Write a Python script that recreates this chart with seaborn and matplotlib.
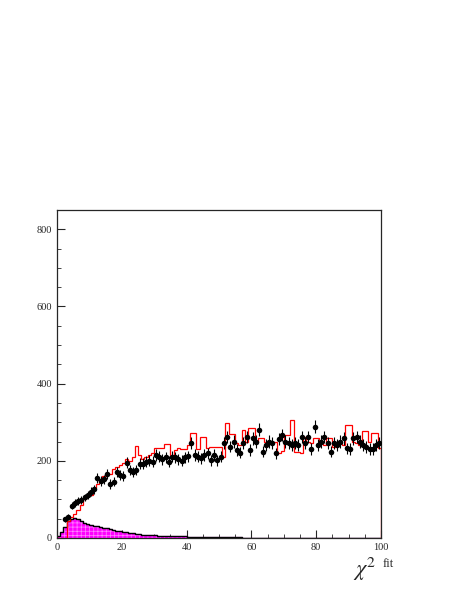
import numpy as np
import pandas as pd
import matplotlib
matplotlib.use("Agg")
import matplotlib.pyplot as plt
import seaborn as sns

sns.set_style("ticks")
plt.rcParams['font.family'] = ['Liberation Serif', 'DejaVu Serif']
plt.rcParams['mathtext.fontset'] = 'stix'
plt.rcParams['hatch.linewidth'] = 0.5

# bin centres of chi2 fit (1 unit bins, 0..100)
bin_centres = np.arange(0.5, 100, 1.0)
bin_edges = np.arange(0, 101, 1.0)

# data points (black markers), bins 2..99
data_counts = [48, 55, 83, 91, 96, 98, 105, 111, 120, 126,
               155, 148, 152, 165, 140, 146, 172, 163, 161, 195,
               176, 172, 176, 193, 193, 198, 200, 198, 215, 211,
               204, 209, 198, 211, 209, 204, 200, 209, 212, 245,
               215, 211, 206, 215, 219, 202, 215, 202, 211, 245,
               262, 237, 250, 228, 221, 245, 262, 228, 258, 250,
               280, 224, 241, 250, 245, 219, 256, 267, 250, 245,
               241, 245, 241, 262, 245, 262, 230, 288, 241, 250,
               262, 245, 224, 245, 241, 250, 258, 232, 230, 258,
               262, 250, 241, 235, 230, 230, 241, 245]
data_first_bin = 2

# red MC histogram
mc_counts = [0, 0, 0, 45, 55, 62, 72, 85, 100, 108,
             112, 130, 140, 150, 160, 168, 165, 180, 185, 190,
             195, 205, 200, 210, 238, 215, 205, 210, 215, 220,
             233, 233, 233, 243, 243, 215, 228, 233, 230, 230,
             240, 271, 271, 230, 262, 262, 232, 237, 237, 237,
             235, 210, 297, 270, 270, 245, 240, 280, 250, 284,
             284, 250, 258, 258, 250, 250, 245, 250, 220, 225,
             267, 267, 305, 224, 224, 220, 262, 250, 245, 258,
             258, 245, 240, 258, 258, 235, 250, 245, 240, 293,
             293, 250, 245, 240, 278, 278, 250, 272, 272, 233]

# magenta background histogram
bkg_counts = [4, 15, 28, 45, 50, 52, 48, 44, 40, 37,
              34, 31, 30, 28, 27, 25, 23, 21, 19, 18,
              16, 15, 13, 12, 11, 10, 9, 8, 8, 7,
              7, 6, 6, 5, 5, 5, 4, 4, 4, 4,
              3, 3, 3, 3, 3, 3, 2, 2, 2, 2,
              2, 2, 2, 2, 2, 2, 2, 1, 1, 1,
              1, 1, 1, 1, 1, 1, 1, 1, 1, 1,
              1, 1, 1, 1, 1, 1, 1, 1, 1, 1,
              1, 1, 1, 1, 1, 1, 1, 1, 1, 1,
              1, 1, 1, 1, 1, 1, 1, 1, 1, 1]

hist_df = pd.DataFrame({"x": bin_centres, "mc": mc_counts, "bkg": bkg_counts})
data_df = pd.DataFrame({"x": bin_centres[data_first_bin:data_first_bin + len(data_counts)],
                        "y": data_counts})
data_df["err"] = np.sqrt(data_df["y"])

fig = plt.figure(figsize=(4.57, 5.91), dpi=100)
ax = fig.add_axes([0.1247, 0.0897, 0.709, 0.555])

hist_kw = dict(data=hist_df, x="x", bins=100, binrange=(0, 100), element="step", ax=ax)

# magenta filled histogram with light hatch, black outline
sns.histplot(weights="bkg", fill=True, color="#ff00ff", alpha=1.0, linewidth=0, **hist_kw)
for p in ax.patches + ax.collections:
    try:
        p.set_hatch("++++")
        p.set_edgecolor("#ff88ff")
        p.set_linewidth(0)
    except Exception:
        pass
sns.histplot(weights="bkg", fill=False, color="black", linewidth=1.0, **hist_kw)
ax.stairs(hist_df["bkg"], bin_edges, baseline=0, color="#ff00ff", linewidth=0.8, zorder=1)

# red MC histogram (closed outline down to zero at the edges)
ax.stairs(hist_df["mc"], bin_edges, baseline=0, color="red", linewidth=0.9, zorder=3)

# data points with error bars
ax.errorbar(data_df["x"], data_df["y"], yerr=data_df["err"], fmt="none",
            ecolor="black", elinewidth=0.8, zorder=5)
sns.scatterplot(data=data_df, x="x", y="y", color="black", s=16,
                edgecolor="black", linewidth=0, ax=ax, zorder=6)

ax.set_xlim(0, 100)
ax.set_ylim(0, 850)
ax.set_xlabel("")
ax.set_ylabel("")
ax.set_xticks([0, 20, 40, 60, 80, 100])
ax.set_xticks(np.arange(0, 101, 5), minor=True)
ax.set_yticks([0, 200, 400, 600, 800])
ax.set_yticks(np.arange(0, 851, 50), minor=True)
ax.tick_params(axis="both", which="major", direction="in", length=6, width=0.8,
               labelsize=7.5, top=False, right=False)
ax.tick_params(axis="both", which="minor", direction="in", length=3, width=0.6,
               top=False, right=False)
for s in ax.spines.values():
    s.set_linewidth(0.9)
    s.set_visible(True)

ax.text(0.95, -0.055, r"$\chi^{2}$", transform=ax.transAxes, fontsize=16,
        ha="center", va="top")
ax.text(1.005, -0.062, "fit", transform=ax.transAxes, fontsize=9,
        ha="left", va="top")

fig.savefig("out.png", dpi=100)
